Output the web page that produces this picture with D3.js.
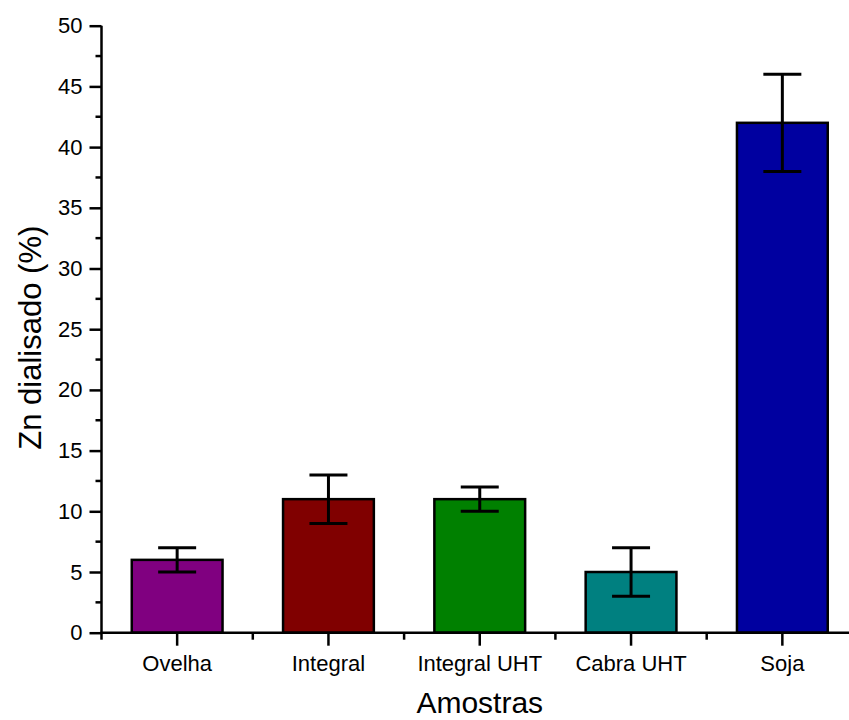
<!DOCTYPE html>
<html><head><meta charset="utf-8">
<script src="https://cdn.jsdelivr.net/npm/d3@7"></script>
<style>body{margin:0;background:#fff}svg{display:block}text{font-family:"Liberation Sans",Arial,sans-serif;fill:#000}</style>
</head><body>
<script>
const categories = ["Ovelha","Integral","Integral UHT","Cabra UHT","Soja"];
const values = [6, 11, 11, 5, 42];
const errors = [1, 2, 1, 2, 4];
const colors = ["#800080","#800000","#008000","#008080","#0000A0"];
const yTicks = [0,5,10,15,20,25,30,35,40,45,50];
const xTitle = "Amostras";
const yTitle = "Zn dialisado (%)";

const W = 849, H = 720;
const svg = d3.select("body").append("svg").attr("width", W).attr("height", H);
const x0 = 101.5, step = 151.3;
const x = d3.scaleBand().domain(categories).range([x0, x0 + step*categories.length]).paddingInner(0.4).paddingOuter(0.2);
const y = d3.scaleLinear().domain([0,50]).range([632.7, 25.7]);

// bars
svg.selectAll("rect.bar").data(categories).join("rect")
  .attr("x", d => x(d)).attr("width", x.bandwidth())
  .attr("y", (d,i) => y(values[i])).attr("height", (d,i) => y(0) - y(values[i]))
  .attr("fill", (d,i) => colors[i]).attr("stroke", "#000").attr("stroke-width", 2.5);

// error bars
const cap = 19;
const eg = svg.append("g").attr("stroke", "#000").attr("stroke-width", 3);
categories.forEach((c,i) => {
  const cx = x(c) + x.bandwidth()/2;
  eg.append("line").attr("x1", cx).attr("x2", cx).attr("y1", y(values[i]-errors[i])).attr("y2", y(values[i]+errors[i]));
  eg.append("line").attr("x1", cx-cap).attr("x2", cx+cap).attr("y1", y(values[i]+errors[i])).attr("y2", y(values[i]+errors[i]));
  eg.append("line").attr("x1", cx-cap).attr("x2", cx+cap).attr("y1", y(values[i]-errors[i])).attr("y2", y(values[i]-errors[i]));
});

// y axis
const yAxis = d3.axisLeft(y).tickValues(yTicks).tickSize(12).tickPadding(7);
const gy = svg.append("g").attr("transform", `translate(${x0},0)`).call(yAxis);
gy.attr("font-size", 22).attr("font-family", "Liberation Sans, Arial, sans-serif");
gy.select(".domain").attr("stroke-width", 2.5).attr("d", `M0,${y(50)}V${y(0)+1}`);
gy.selectAll(".tick line").attr("stroke-width", 2.5);
gy.selectAll(".tick text").attr("fill","#000");
const minorY = d3.range(2.5, 50, 5);
gy.selectAll("line.minor").data(minorY).join("line").attr("class","minor")
  .attr("x1", -6).attr("x2", 0).attr("y1", d => y(d)).attr("y2", d => y(d))
  .attr("stroke", "#000").attr("stroke-width", 2.5);

// x axis
const xAxis = d3.axisBottom(x).tickSize(13).tickPadding(10);
const gx = svg.append("g").attr("transform", `translate(0,${y(0)})`).call(xAxis);
gx.attr("font-size", 22).attr("font-family", "Liberation Sans, Arial, sans-serif");
gx.select(".domain").attr("stroke-width", 2.5).attr("d", `M${x0-1},0H${W}`);
gx.selectAll(".tick line").attr("stroke-width", 2.5);
gx.selectAll(".tick text").attr("fill","#000");
const minorX = d3.range(0, categories.length+1).map(i => x0 + i*step);
gx.selectAll("line.minor").data(minorX).join("line").attr("class","minor")
  .attr("x1", d => d).attr("x2", d => d).attr("y1", 0).attr("y2", 7)
  .attr("stroke", "#000").attr("stroke-width", 2.5);

// titles
svg.append("text").attr("x", x0 + step*2.5).attr("y", 713).attr("text-anchor","middle").attr("font-size", 30).text(xTitle);
svg.append("text").attr("transform", `translate(41,${y(24.3)}) rotate(-90)`).attr("text-anchor","middle").attr("font-size", 31).text(yTitle);
</script>
</body></html>
